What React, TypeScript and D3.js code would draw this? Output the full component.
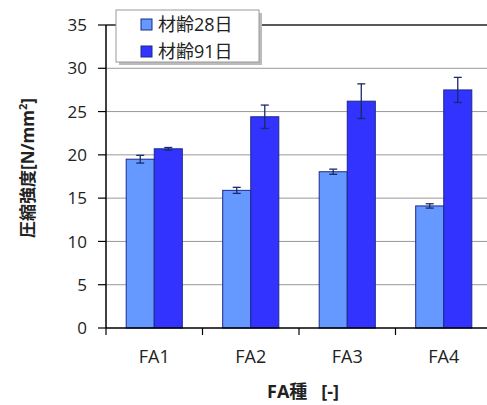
import React from 'react';
import * as d3 from 'd3';

const categories = ['FA1', 'FA2', 'FA3', 'FA4'];
const seriesNames = ['材齢28日', '材齢91日'];
const age28 = [19.5, 15.9, 18.05, 14.1];
const age28Err = [0.45, 0.35, 0.3, 0.25];
const age91 = [20.7, 24.4, 26.2, 27.5];
const age91Err = [0.15, 1.35, 2.0, 1.45];
const yTicks = [0, 5, 10, 15, 20, 25, 30, 35];

const colors = ['#6699ff', '#3333ff'];
const font = "'Open Sans', 'Noto Sans CJK JP', sans-serif";

export default function App() {
  const width = 487;
  const height = 405;
  const left = 106;
  const top = 25;
  const bottom = 328;
  const right = 492;

  const x = d3.scaleBand().domain(categories).range([left, right]);
  const inner = d3.scaleBand().domain(seriesNames).range([0, x.bandwidth()]).paddingInner(0).paddingOuter(0.72);
  const y = d3.scaleLinear().domain([0, 35]).range([bottom, top]);

  const series = [
    { name: seriesNames[0], values: age28, errs: age28Err, color: colors[0] },
    { name: seriesNames[1], values: age91, errs: age91Err, color: colors[1] },
  ];

  return (
    <svg width={width} height={height} style={{ position: 'absolute', left: 0, top: 0, background: '#fff' }}>
      {yTicks.slice(1).map((t) => (
        <line key={t} x1={left} x2={width} y1={y(t)} y2={y(t)} stroke={t === 35 ? '#222' : '#999'} strokeWidth={t === 35 ? 1.5 : 1} />
      ))}
      {series.map((s) =>
        categories.map((c, i) => {
          const bx = x(c)! + inner(s.name)!;
          const bw = inner.bandwidth();
          const cx = bx + bw / 2;
          return (
            <g key={s.name + c}>
              <rect x={bx} y={y(s.values[i])} width={bw} height={bottom - y(s.values[i])} fill={s.color} stroke="#1a2a8a" strokeWidth={1} />
              <line x1={cx} x2={cx} y1={y(s.values[i] + s.errs[i])} y2={y(s.values[i] - s.errs[i])} stroke="#1a2a6a" strokeWidth={1.3} />
              <line x1={cx - 4} x2={cx + 4} y1={y(s.values[i] + s.errs[i])} y2={y(s.values[i] + s.errs[i])} stroke="#1a2a6a" strokeWidth={1.3} />
              <line x1={cx - 4} x2={cx + 4} y1={y(s.values[i] - s.errs[i])} y2={y(s.values[i] - s.errs[i])} stroke="#1a2a6a" strokeWidth={1.3} />
            </g>
          );
        })
      )}
      {/* axes */}
      <line x1={left} x2={left} y1={top} y2={bottom} stroke="#000" strokeWidth={1.5} />
      <line x1={left} x2={width} y1={bottom} y2={bottom} stroke="#000" strokeWidth={1.5} />
      {yTicks.map((t) => (
        <g key={t}>
          <line x1={left - 8} x2={left} y1={y(t)} y2={y(t)} stroke="#000" strokeWidth={1.2} />
          <text x={87} y={y(t)} dy="0.36em" textAnchor="end" fontSize={17} fontFamily={font} fill="#222">{t}</text>
        </g>
      ))}
      {categories.map((c) => (
        <g key={c}>
          <line x1={x(c)!} x2={x(c)!} y1={bottom} y2={bottom + 7} stroke="#000" strokeWidth={1.2} />
          <text x={x(c)! + x.bandwidth() / 2} y={363} textAnchor="middle" fontSize={18} fontFamily={font} fill="#222">{c}</text>
        </g>
      ))}
      <text transform="translate(34,168) rotate(-90)" textAnchor="middle" fontSize={17} fontWeight="bold" fontFamily={font} fill="#222">
        圧縮強度[N/mm<tspan dy="-7" fontSize={11}>2</tspan><tspan dy="7">]</tspan>
      </text>
      <text x={267} y={398} fontSize={18} fontWeight="bold" fontFamily={font} fill="#222">
        FA種<tspan dx={14}>[-]</tspan>
      </text>
      {/* legend */}
      <rect x={119} y={13} width={143} height={52} fill="#bbb" />
      <rect x={116} y={10} width={143} height={52} fill="#fff" stroke="#999" strokeWidth={1} />
      {series.map((s, i) => (
        <g key={s.name} transform={`translate(141,${25 + i * 27})`}>
          <rect x={0} y={-6} width={11} height={11} fill={s.color} stroke="#1a2a8a" strokeWidth={1} />
          <text x={17} y={0} dy="0.36em" fontSize={18} fontFamily={font} fill="#222">{s.name}</text>
        </g>
      ))}
    </svg>
  );
}
